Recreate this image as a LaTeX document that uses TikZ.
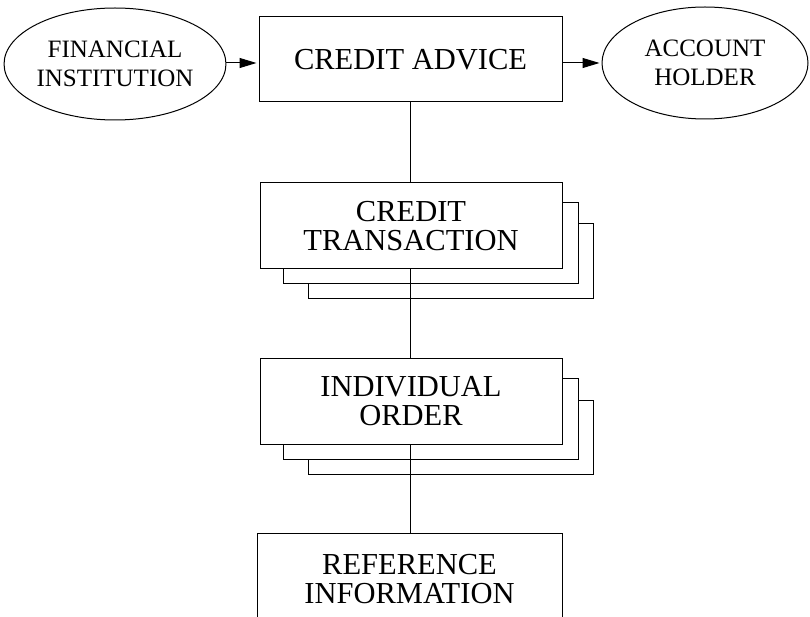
\documentclass[tikz,border=0pt]{standalone}
\usepackage{fontspec}
\setmainfont{Liberation Serif}
\usetikzlibrary{shapes.geometric,arrows.meta}
\tikzset{
  every node/.style={font=\fontsize{30.5}{29}\selectfont, align=center, inner sep=0pt},
  ent/.style={draw, line width=1pt, ellipse, minimum width=206pt, minimum height=112pt,
              font=\fontsize{25}{29}\selectfont},
  mainbox/.style={draw, line width=1pt, fill=white, rectangle, minimum width=302pt, minimum height=86pt},
  shadowa/.style={draw, line width=1pt, fill=white, rectangle, minimum width=295pt, minimum height=81pt},
  shadowb/.style={draw, line width=1pt, fill=white, rectangle, minimum width=285pt, minimum height=74pt},
  conn/.style={line width=1pt},
  flow/.style={line width=1pt, shorten >=2pt, -{Triangle[length=17pt,width=10pt]}}
}
\begin{document}
\begin{tikzpicture}[x=1pt,y=-1pt]
\useasboundingbox (0,0) rectangle (810,617);
% top row
\node[ent] (fi) at (115,64) {FINANCIAL\\INSTITUTION};
\node[mainbox, minimum width=303pt, minimum height=85pt] (ca) at (410.5,59.5) {CREDIT ADVICE};
\node[ent] (ah) at (705,63) {ACCOUNT\\HOLDER};
\draw[flow] (fi.east |- 0,63) -- (ca.west |- 0,63);
\draw[flow] (ca.east |- 0,63) -- (ah.west |- 0,63);
% credit transaction stack
\node[shadowb] (cts2) at (450.5,261) {};
\node[shadowa] (cts1) at (430.5,243) {};
\node[mainbox] (ct) at (411,226) {CREDIT\\TRANSACTION};
% individual order stack
\node[shadowb] (ios2) at (450.5,437) {};
\node[shadowa] (ios1) at (430.5,419) {};
\node[mainbox] (io) at (411,401) {INDIVIDUAL\\ORDER};
% reference information
\node[mainbox, minimum width=305pt, minimum height=93pt] (ri) at (409.5,579.5) {REFERENCE\\INFORMATION};
% connectors
\coordinate (axis) at (410,0);
\draw[conn] (ca.south -| axis) -- (ct.north -| axis);
\draw[conn] (ct.south -| axis) -- (io.north -| axis);
\draw[conn] (io.south -| axis) -- (ri.north -| axis);
\end{tikzpicture}
\end{document}
